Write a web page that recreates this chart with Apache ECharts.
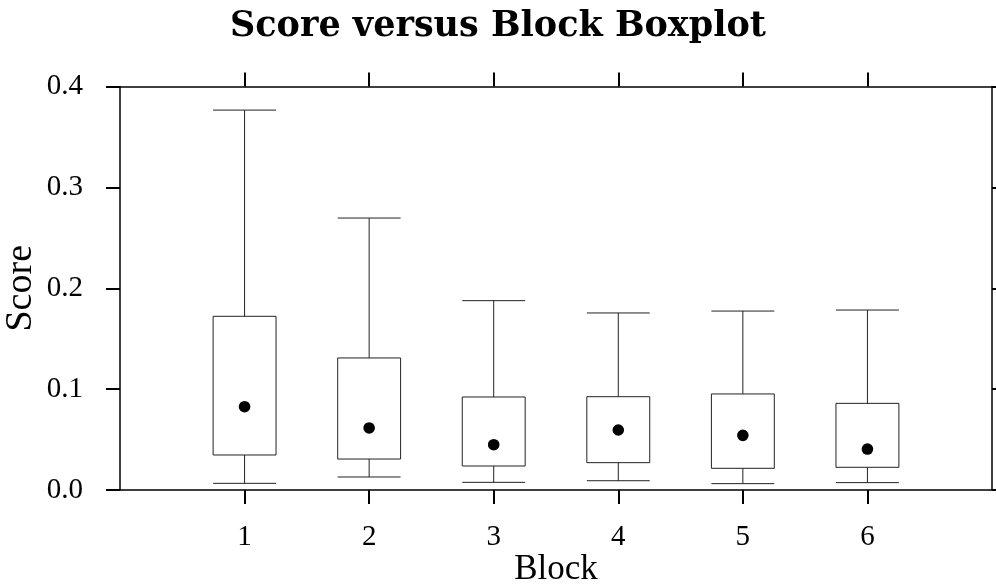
<!DOCTYPE html>
<html>
<head>
<meta charset="utf-8">
<script src="https://cdn.jsdelivr.net/npm/echarts@6/dist/echarts.min.js"></script>
<style>html,body{margin:0;padding:0;background:#fff}#c{width:996px;height:584px}</style>
</head>
<body>
<div id="c"></div>
<script>
const blocks = [1, 2, 3, 4, 5, 6];
const whiskerLow = [0.0066, 0.0129, 0.0076, 0.0092, 0.0063, 0.0073];
const q1 = [0.0347, 0.0307, 0.0238, 0.0271, 0.0215, 0.0225];
const median = [0.0826, 0.0615, 0.0449, 0.0595, 0.0542, 0.0406];
const q3 = [0.1722, 0.1309, 0.0922, 0.0925, 0.0952, 0.0859];
const whiskerHigh = [0.3766, 0.2696, 0.1877, 0.1755, 0.1774, 0.1784];
const yTicks = [0, 0.1, 0.2, 0.3, 0.4];

const boxData = blocks.map((b, i) => [b, whiskerLow[i], q1[i], median[i], q3[i], whiskerHigh[i]]);

const serif = 'Liberation Serif';
const chart = echarts.init(document.getElementById('c'), null, {renderer: 'canvas'});

function renderBox(params, api) {
  const x = api.value(0);
  const lo = api.coord([x, api.value(1)]);
  const b1 = api.coord([x, api.value(2)]);
  const md = api.coord([x, api.value(3)]);
  const b3 = api.coord([x, api.value(4)]);
  const hi = api.coord([x, api.value(5)]);
  const w = api.size([0.505, 0])[0];
  const h = w / 2;
  const ls = {stroke: '#222', lineWidth: 1, fill: null};
  return {
    type: 'group',
    children: [
      {type: 'rect', shape: {x: b1[0] - h, y: b3[1], width: w, height: b1[1] - b3[1]}, style: {stroke: '#222', lineWidth: 1, fill: '#fff'}},
      {type: 'line', shape: {x1: hi[0], y1: hi[1], x2: b3[0], y2: b3[1]}, style: ls},
      {type: 'line', shape: {x1: lo[0], y1: lo[1], x2: b1[0], y2: b1[1]}, style: ls},
      {type: 'line', shape: {x1: hi[0] - h, y1: hi[1], x2: hi[0] + h, y2: hi[1]}, style: ls},
      {type: 'line', shape: {x1: lo[0] - h, y1: lo[1], x2: lo[0] + h, y2: lo[1]}, style: ls},
      {type: 'circle', shape: {cx: md[0], cy: md[1], r: 5.8}, style: {fill: '#000'}}
    ]
  };
}

const tickStyle = {show: true, inside: false, length: 14, lineStyle: {color: '#000', width: 2}};
const lineStyle = {show: true, onZero: false, lineStyle: {color: '#000', width: 1.5}};

chart.setOption({
  animation: false,
  backgroundColor: '#fff',
  title: {
    text: 'Score versus Block Boxplot',
    left: 'center',
    top: 4,
    textStyle: {fontFamily: 'DejaVu Serif', fontWeight: 'bold', fontSize: 35, color: '#000'}
  },
  grid: {left: 120, right: 4, top: 86.5, bottom: 94, containLabel: false, outerBoundsMode: 'none'},
  xAxis: [
    {
      type: 'value', min: 0, max: 7, interval: 1, position: 'bottom',
      name: 'Block', nameLocation: 'middle', nameGap: 62, nameMoveOverlap: false,
      nameTextStyle: {fontFamily: serif, fontSize: 35, color: '#000'},
      axisLine: lineStyle,
      axisTick: Object.assign({customValues: blocks}, tickStyle),
      axisLabel: {customValues: blocks, margin: 33, fontFamily: serif, fontSize: 29, color: '#000'},
      splitLine: {show: false}
    },
    {
      type: 'value', min: 0, max: 7, interval: 1, position: 'top',
      axisLine: lineStyle,
      axisTick: Object.assign({customValues: blocks}, tickStyle),
      axisLabel: {show: false},
      splitLine: {show: false}
    }
  ],
  yAxis: [
    {
      type: 'value', min: 0, max: 0.4, interval: 0.1, position: 'left',
      name: 'Score', nameLocation: 'middle', nameGap: 80, nameRotate: 90, nameMoveOverlap: false,
      nameTextStyle: {fontFamily: serif, fontSize: 38, color: '#000'},
      axisLine: lineStyle,
      axisTick: Object.assign({customValues: yTicks}, tickStyle),
      axisLabel: {customValues: yTicks, margin: 37, fontFamily: serif, fontSize: 29, color: '#000', formatter: v => v.toFixed(1)},
      splitLine: {show: false}
    },
    {
      type: 'value', min: 0, max: 0.4, interval: 0.1, position: 'right',
      axisLine: lineStyle,
      axisTick: Object.assign({customValues: yTicks}, tickStyle),
      axisLabel: {show: false},
      splitLine: {show: false}
    }
  ],
  series: [{
    type: 'custom',
    xAxisIndex: 0,
    yAxisIndex: 0,
    renderItem: renderBox,
    encode: {x: 0, y: [1, 2, 3, 4, 5]},
    data: boxData,
    clip: false
  }]
});
</script>
</body>
</html>
